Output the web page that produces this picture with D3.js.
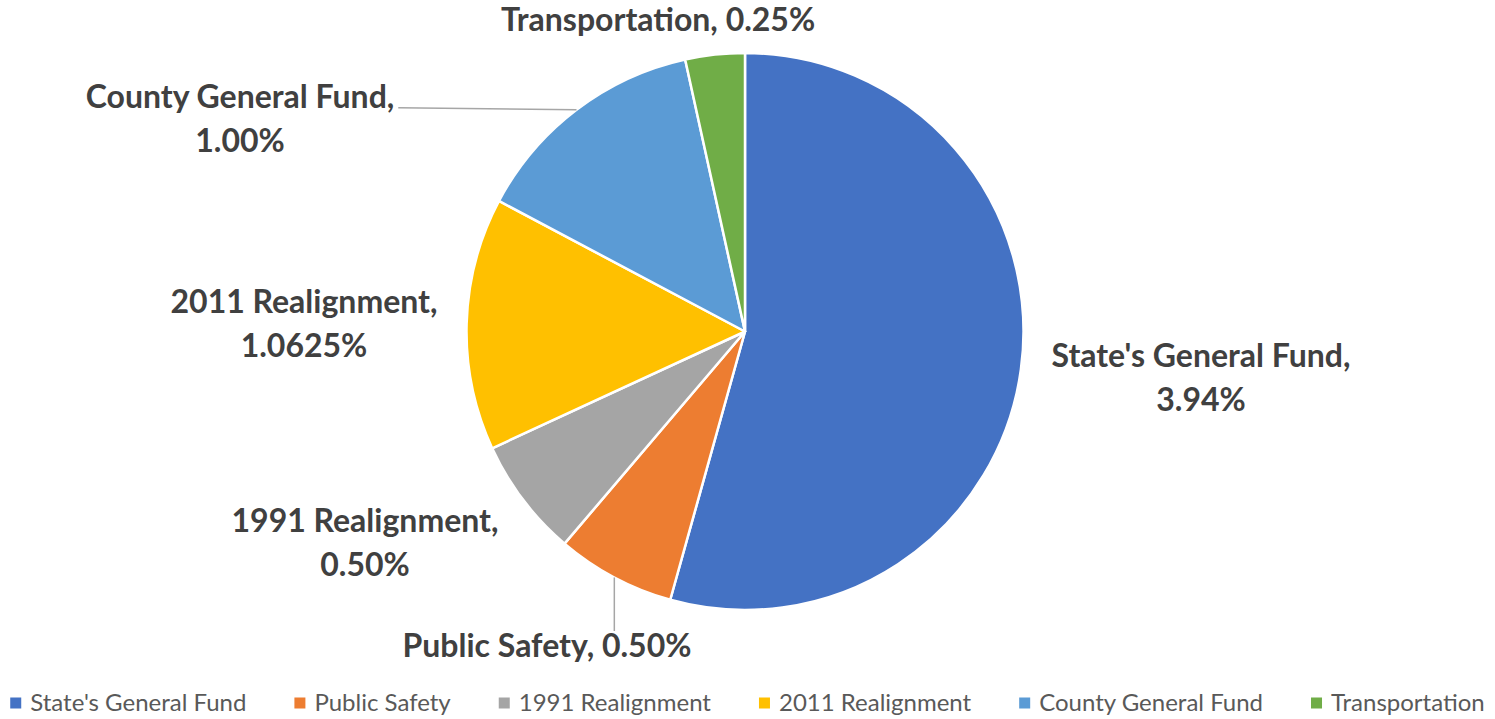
<!DOCTYPE html>
<html>
<head>
<meta charset="utf-8">
<script src="https://cdn.jsdelivr.net/npm/d3@7"></script>
<style>
  html, body { margin: 0; padding: 0; background: #ffffff; }
  svg { display: block; }
</style>
</head>
<body>
<svg id="chart" width="1495" height="719"></svg>
<script>
// Sales tax shares by fund
const categories = ["State's General Fund", "Public Safety", "1991 Realignment", "2011 Realignment", "County General Fund", "Transportation"];
const values = [3.94, 0.50, 0.50, 1.0625, 1.00, 0.25];
const valueLabels = ["3.94%", "0.50%", "0.50%", "1.0625%", "1.00%", "0.25%"];
const colors = ["#4472C4", "#ED7D31", "#A5A5A5", "#FFC000", "#5B9BD5", "#70AD47"];

// Label layout: horizontal centre and first baseline, relative to the pie centre;
// whether the value wraps to a second line; leader style
const labelLayout = [
  { dx: 456, dy: 35.5, wrap: true, leader: null },
  { dx: -198, dy: 325.5, wrap: false, leader: "v" },
  { dx: -380, dy: 200.5, wrap: true, leader: null },
  { dx: -441, dy: -19, wrap: true, leader: null },
  { dx: -505, dy: -223.5, wrap: true, leader: "h" },
  { dx: -87, dy: -300.5, wrap: false, leader: null }
];

const width = 1495, height = 719;
const cx = 745, cy = 331.5, radius = 278.5;
const labelFont = "Lato, 'Open Sans', sans-serif";
const lineHeight = 44;

const svg = d3.select("#chart");
const data = categories.map((c, i) => ({ name: c, value: values[i], label: valueLabels[i], color: colors[i], layout: labelLayout[i] }));

const pie = d3.pie().value(d => d.value).sort(null).startAngle(0).endAngle(2 * Math.PI);
const arcs = pie(data);
const arc = d3.arc().innerRadius(0).outerRadius(radius);

const g = svg.append("g").attr("transform", `translate(${cx},${cy})`);

g.selectAll("path.slice")
  .data(arcs)
  .join("path")
  .attr("class", "slice")
  .attr("d", arc)
  .attr("fill", d => d.data.color)
  .attr("stroke", "#ffffff")
  .attr("stroke-width", 2.5)
  .attr("stroke-linejoin", "round");

// Data labels
const labels = g.selectAll("g.label")
  .data(arcs)
  .join("g")
  .attr("class", "label");

labels.each(function(d) {
  const L = d.data.layout;
  const sel = d3.select(this);
  const lines = L.wrap ? [d.data.name + ",", d.data.label] : [d.data.name + ", " + d.data.label];
  lines.forEach((t, k) => {
    sel.append("text")
      .attr("x", L.dx)
      .attr("y", L.dy + k * lineHeight)
      .attr("text-anchor", "middle")
      .attr("font-family", labelFont)
      .attr("font-weight", 700)
      .attr("font-size", 32)
      .attr("fill", "#404040")
      .text(t);
  });

  // Leader line from the slice edge at its mid angle to the label
  if (L.leader) {
    const mid = (d.startAngle + d.endAngle) / 2;
    const px = radius * Math.sin(mid), py = -radius * Math.cos(mid);
    const bb = sel.node().getBBox();
    let ex, ey;
    if (L.leader === "h") {
      const first = sel.select("text").node().getBBox();
      ex = first.x + first.width + 4; ey = py - 2;
    } else {
      ex = px; ey = bb.y + 6;
    }
    g.insert("line", "g.label")
      .attr("x1", px).attr("y1", py)
      .attr("x2", ex).attr("y2", ey)
      .attr("stroke", "#a6a6a6")
      .attr("stroke-width", 1.5);
  }
});

// Legend along the bottom
const legend = svg.append("g").attr("class", "legend");
const swatch = 11, textGap = 9, itemGap = 48, legendY = 703;
const items = legend.selectAll("g.item")
  .data(data)
  .join("g")
  .attr("class", "item");

items.append("rect")
  .attr("width", swatch).attr("height", swatch)
  .attr("y", legendY - swatch / 2)
  .attr("fill", d => d.color);

items.append("text")
  .attr("x", swatch + textGap)
  .attr("y", legendY + 8)
  .attr("font-family", labelFont)
  .attr("font-size", 24)
  .attr("fill", "#595959")
  .text(d => d.name);

const widths = [];
items.each(function() {
  const w = swatch + textGap + d3.select(this).select("text").node().getComputedTextLength();
  widths.push(w);
});
const total = d3.sum(widths) + itemGap * (widths.length - 1);
let xPos = (width - total) / 2;
items.each(function(d, i) {
  d3.select(this).attr("transform", `translate(${xPos},0)`);
  xPos += widths[i] + itemGap;
});
</script>
</body>
</html>
